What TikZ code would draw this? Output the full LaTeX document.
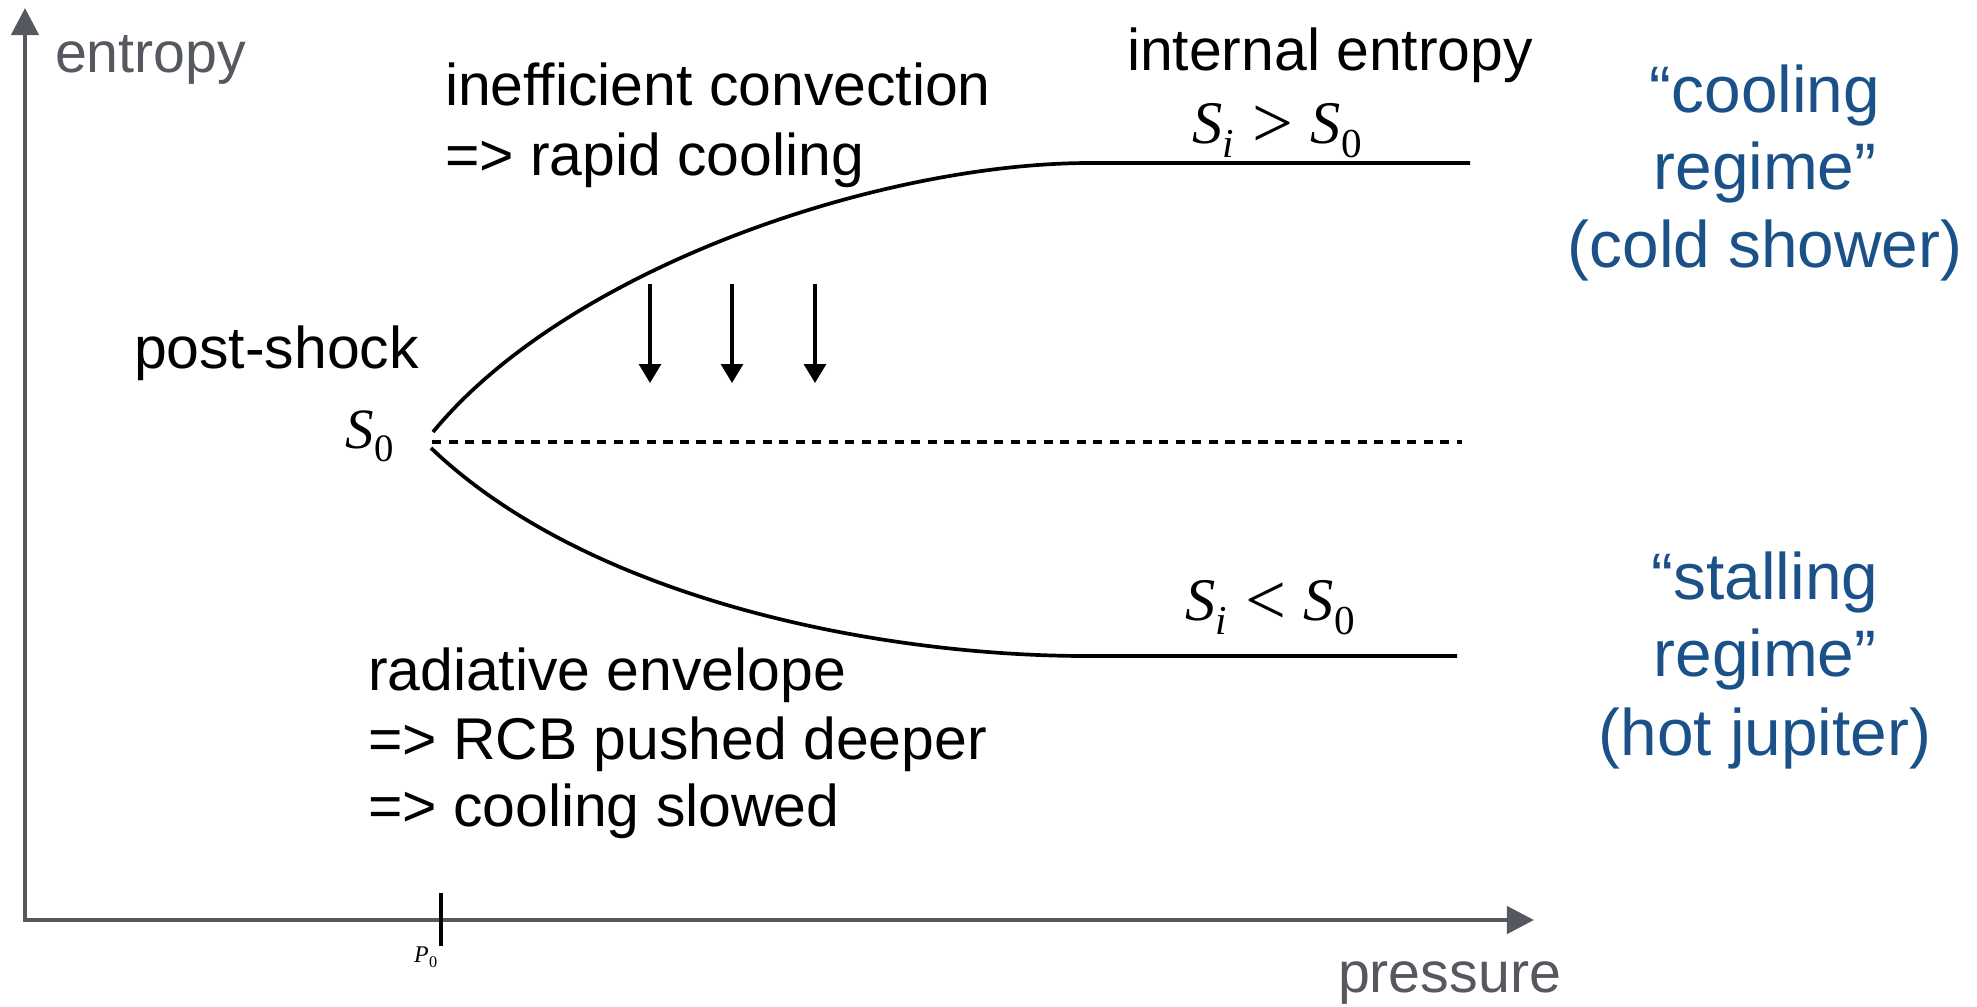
\documentclass[tikz,border=0pt]{standalone}
\usepackage{fontspec}
\setmainfont{Liberation Sans}
\newfontfamily\tms{Liberation Serif}
\usetikzlibrary{arrows.meta}
\definecolor{axisgray}{RGB}{85,89,95}
\definecolor{regblue}{RGB}{27,81,137}
\newcommand\Sv[1]{{\tms\itshape S}\kern0.01em\raisebox{-0.24em}{\scalebox{0.68}{\tms #1}}}
\newcommand\relsym[1]{\hspace{0.3em}\raisebox{-0.08em}{\scalebox{1.2}{\tms #1}}\hspace{0.28em}}
\begin{document}
\begin{tikzpicture}[x=0.01cm,y=-0.01cm,
  txt/.style={inner sep=0pt,outer sep=0pt,font=\fontsize{16.75pt}{19pt}\selectfont},
  axlbl/.style={inner sep=0pt,outer sep=0pt,text=axisgray,font=\fontsize{16.3pt}{19pt}\selectfont},
  mth/.style={inner sep=0pt,outer sep=0pt,font=\fontsize{16.2pt}{19pt}\selectfont},
  mthB/.style={inner sep=0pt,outer sep=0pt,font=\fontsize{17.2pt}{19pt}\selectfont},
  bluetxt/.style={inner sep=0pt,outer sep=0pt,text=regblue,font=\fontsize{18.7pt}{22pt}\selectfont},
  axisline/.style={draw=axisgray,line width=1.25pt,-{Triangle[length=7.7pt,width=7.7pt]}},
  curveline/.style={line width=1.05pt},
  dashline/.style={line width=1.25pt,dash pattern=on 2.6pt off 2.1pt},
  downarrow/.style={line width=1.05pt,-{Triangle[length=5.4pt,width=6.2pt]}}]
\useasboundingbox (0,0) rectangle (1977,1006);
% axes
\coordinate (origin) at (25,920);
\coordinate (xleft) at (23,920);
\coordinate (ytip) at (25,8);
\coordinate (xtip) at (1534,920);
\draw[axisline] (origin) -- (ytip);
\draw[axisline] (xleft) -- (xtip);
\node[axlbl,anchor=base west] (entropy) at (55,72) {entropy};
\node[axlbl,anchor=base west] (pressure) at (1338,992) {pressure};
% tick P0
\coordinate (tickT) at (441,893);
\coordinate (tickB) at (441,946);
\draw[line width=1.3pt] (tickT) -- (tickB);
\node[inner sep=0pt,outer sep=0pt,anchor=base west,font=\fontsize{6.8pt}{8pt}\selectfont] (P0) at (414,962) {{\tms\itshape P}\kern0.02em\raisebox{-0.24em}{\scalebox{0.68}{\tms 0}}};
% curves
\coordinate (s0up) at (433,432);
\coordinate (upend) at (1090,163);
\coordinate (upR) at (1470,163);
\coordinate (s0lo) at (431,448);
\coordinate (loend) at (1087,656);
\coordinate (loR) at (1457,656);
\coordinate (dashL) at (432,442);
\coordinate (dashR) at (1462,442);
\draw[curveline] (s0up) .. controls (568,268) and (880,163) .. (upend) -- (upR);
\draw[curveline] (s0lo) .. controls (590,600) and (880,656) .. (loend) -- (loR);
\draw[dashline] (dashL) -- (dashR);
% down arrows
\coordinate (a1t) at (650,284); \coordinate (a1b) at (650,383);
\coordinate (a2t) at (732,284); \coordinate (a2b) at (732,383);
\coordinate (a3t) at (815,284); \coordinate (a3b) at (815,383);
\draw[downarrow] (a1t) -- (a1b);
\draw[downarrow] (a2t) -- (a2b);
\draw[downarrow] (a3t) -- (a3b);
% texts
\node[txt,anchor=base west] (ineffA) at (445,105) {inefficient convection};
\node[txt,anchor=base west] (ineffB) at (445,175) {=> rapid cooling};
\node[txt,anchor=base west] (internal) at (1127,70) {internal entropy};
\node[mthB,anchor=base west] (Sgt) at (1192,143) {\Sv{\itshape i}\relsym{>}\Sv{0}};
\node[txt,anchor=base west] (postshock) at (134,368) {post-shock};
\node[mth,anchor=base west] (Szero) at (345,448) {\Sv{0}};
\node[mthB,anchor=base west] (Slt) at (1185,620) {\Sv{\itshape i}\relsym{<}\Sv{0}};
\node[txt,anchor=base west] (radA) at (368,690) {radiative envelope};
\node[txt,anchor=base west] (radB) at (368,759) {=> RCB pushed deeper};
\node[txt,anchor=base west] (radC) at (368,826) {=> cooling slowed};
\node[bluetxt,anchor=base] (coolA) at (1765,112) {“cooling};
\node[bluetxt,anchor=base] (coolB) at (1765,189) {regime”};
\node[bluetxt,anchor=base] (coolC) at (1765,267) {(cold shower)};
\node[bluetxt,anchor=base] (stallA) at (1765,599) {“stalling};
\node[bluetxt,anchor=base] (stallB) at (1765,676) {regime”};
\node[bluetxt,anchor=base] (stallC) at (1765,755) {(hot jupiter)};
\end{tikzpicture}
\end{document}
